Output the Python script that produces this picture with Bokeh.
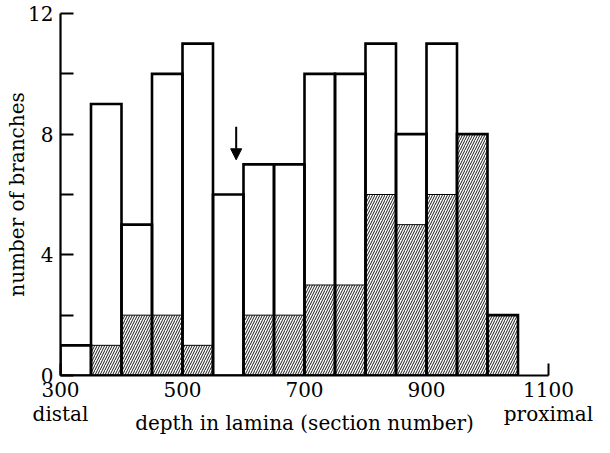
from bokeh.plotting import figure
from bokeh.models import FixedTicker, Arrow, NormalHead, ColumnDataSource, Range1d
from bokeh.embed import file_html
from bokeh.resources import INLINE

# data: sections binned by 50
bin_left = [300, 350, 400, 450, 500, 550, 600, 650, 700, 750, 800, 850, 900, 950, 1000]
bin_width = 50
total_branches = [1, 9, 5, 10, 11, 6, 7, 7, 10, 10, 11, 8, 11, 8, 2]
hatched_branches = [0, 1, 2, 2, 1, 0, 2, 2, 3, 3, 6, 5, 6, 8, 2]
x_ticks = [300, 500, 700, 900, 1100]
x_tick_labels = {300: "300\ndistal", 500: "500", 700: "700", 900: "900", 1100: "1100\nproximal"}
y_ticks = [0, 4, 8, 12]
y_minor = [2, 6, 10]
arrow_x = 588
arrow_y = [8.25, 7.15]

FONT = "DejaVu Serif"
FS = "20px"

bin_right = [b + bin_width for b in bin_left]
src_tot = ColumnDataSource(dict(left=bin_left, right=bin_right, top=total_branches,
                                bottom=[0] * len(bin_left)))
hl = [l for l, h in zip(bin_left, hatched_branches) if h > 0]
hr = [l + bin_width for l in hl]
ht = [h for h in hatched_branches if h > 0]
src_hat = ColumnDataSource(dict(left=hl, right=hr, top=ht, bottom=[0] * len(hl)))

p = figure(width=594, height=437, output_backend="svg", toolbar_location=None,
           x_range=Range1d(300, 1100), y_range=Range1d(0, 12),
           min_border_left=60, min_border_right=46, min_border_top=13, min_border_bottom=55)
p.outline_line_color = None
p.grid.visible = False
p.background_fill_color = "white"

p.quad(left="left", right="right", top="top", bottom="bottom", source=src_tot,
       fill_color="white", line_color=None)
p.quad(left="left", right="right", top="top", bottom="bottom", source=src_hat,
       fill_color="white", hatch_pattern="/", hatch_scale=5, hatch_weight=0.9,
       hatch_color="black", line_color="black", line_width=1)
p.quad(left="left", right="right", top="top", bottom="bottom", source=src_tot,
       fill_color=None, line_color="black", line_width=2.6, line_join="miter")

for ax in (p.xaxis[0], p.yaxis[0]):
    ax.axis_line_width = 2.2
    ax.axis_line_color = "black"
    ax.major_tick_line_width = 2
    ax.major_tick_line_color = "black"
    ax.major_label_text_font = FONT
    ax.major_label_text_font_size = FS
    ax.major_label_text_color = "black"
    ax.major_tick_out = 0
    ax.axis_label_text_font = FONT
    ax.axis_label_text_font_size = FS
    ax.axis_label_text_font_style = "normal"
    ax.axis_label_text_color = "black"

p.xaxis.ticker = FixedTicker(ticks=x_ticks)
p.xaxis.major_label_overrides = x_tick_labels
p.xaxis.major_label_text_line_height = 1.0
p.xaxis.major_tick_in = 12
p.xaxis.minor_tick_line_color = None
p.xaxis.major_label_standoff = 2
p.xaxis.axis_label = "depth in lamina (section number)"
p.xaxis.axis_label_standoff = -18

p.yaxis.ticker = FixedTicker(ticks=y_ticks, minor_ticks=y_minor)
p.yaxis.major_tick_in = 13
p.yaxis.minor_tick_in = 13
p.yaxis.minor_tick_out = 0
p.yaxis.minor_tick_line_width = 2
p.yaxis.minor_tick_line_color = "black"
p.yaxis.major_label_standoff = 7
p.yaxis.axis_label = "number of branches"
p.yaxis.axis_label_standoff = -4

p.add_layout(Arrow(x_start=arrow_x, y_start=arrow_y[0], x_end=arrow_x, y_end=arrow_y[1],
                   line_width=2, line_color="black",
                   end=NormalHead(size=11, fill_color="black", line_color="black", line_width=1)))

open("out.html", "w").write(file_html(p, INLINE))
